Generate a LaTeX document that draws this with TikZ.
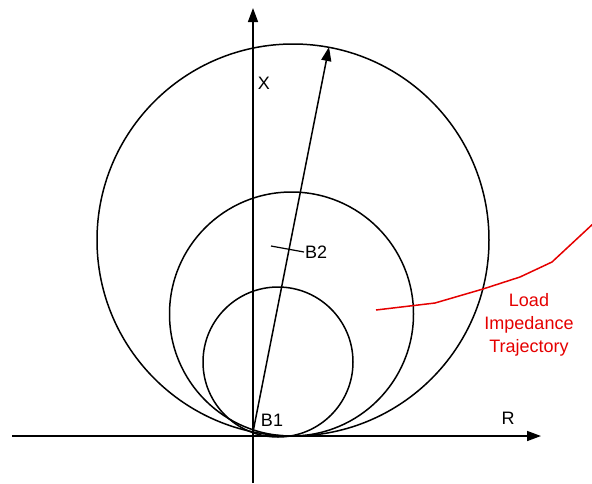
\documentclass[tikz,border=0pt]{standalone}
\usepackage{fontspec}
\setmainfont{Liberation Sans}
\usetikzlibrary{arrows.meta,positioning}

\begin{document}
\begin{tikzpicture}[x=1pt, y=-1pt, font=\fontsize{18}{23}\selectfont]
  \tikzstyle{axis} = [line width=1.5pt, -{Triangle[length=14pt,width=10pt]}]
  \tikzstyle{circ} = [line width=1.5pt]
  \tikzstyle{traj} = [line width=1.5pt, red!90!black]
  \useasboundingbox (0,0) rectangle (592,483);
  % axes
  \coordinate (b1) at (253,432);
  \coordinate (xbot) at (253,483);
  \coordinate (xtop) at (253,8);
  \coordinate (rleft) at (12,436);
  \coordinate (rright) at (541,436);
  \draw [axis] (xbot) -- (xtop);
  \draw [axis] (rleft) -- (rright);
  \node (xlbl) at (264,83) {X};
  \node (rlbl) at (508,418) {R};
  % circles through B1
  \coordinate (cbig) at (293,240);
  \coordinate (cmid) at (291.5,314);
  \coordinate (csmall) at (278,362);
  \draw [circ] (cbig) circle[radius=196];
  \draw [circ] (cmid) circle[radius=122];
  \draw [circ] (csmall) circle[radius=75];
  % diameter arrow
  \coordinate (dtip) at (329,47);
  \draw [axis] (b1) -- (dtip);
  \node (b1lbl) at (272,420) {B1};
  \node [anchor=west, inner sep=1pt] (b2lbl) at (304,252) {B2};
  \coordinate (b2tick) at (271,246);
  \draw [line width=1.2pt] (b2tick) -- (b2lbl.west);
  % load trajectory
  \draw [traj] (376,310) -- (435,303) -- (483,289) -- (520,277) -- (552,262) -- (595,222);
  \node [red!90!black, align=center] (trajlbl) at (529,325) {Load\\Impedance\\Trajectory};
\end{tikzpicture}
\end{document}
